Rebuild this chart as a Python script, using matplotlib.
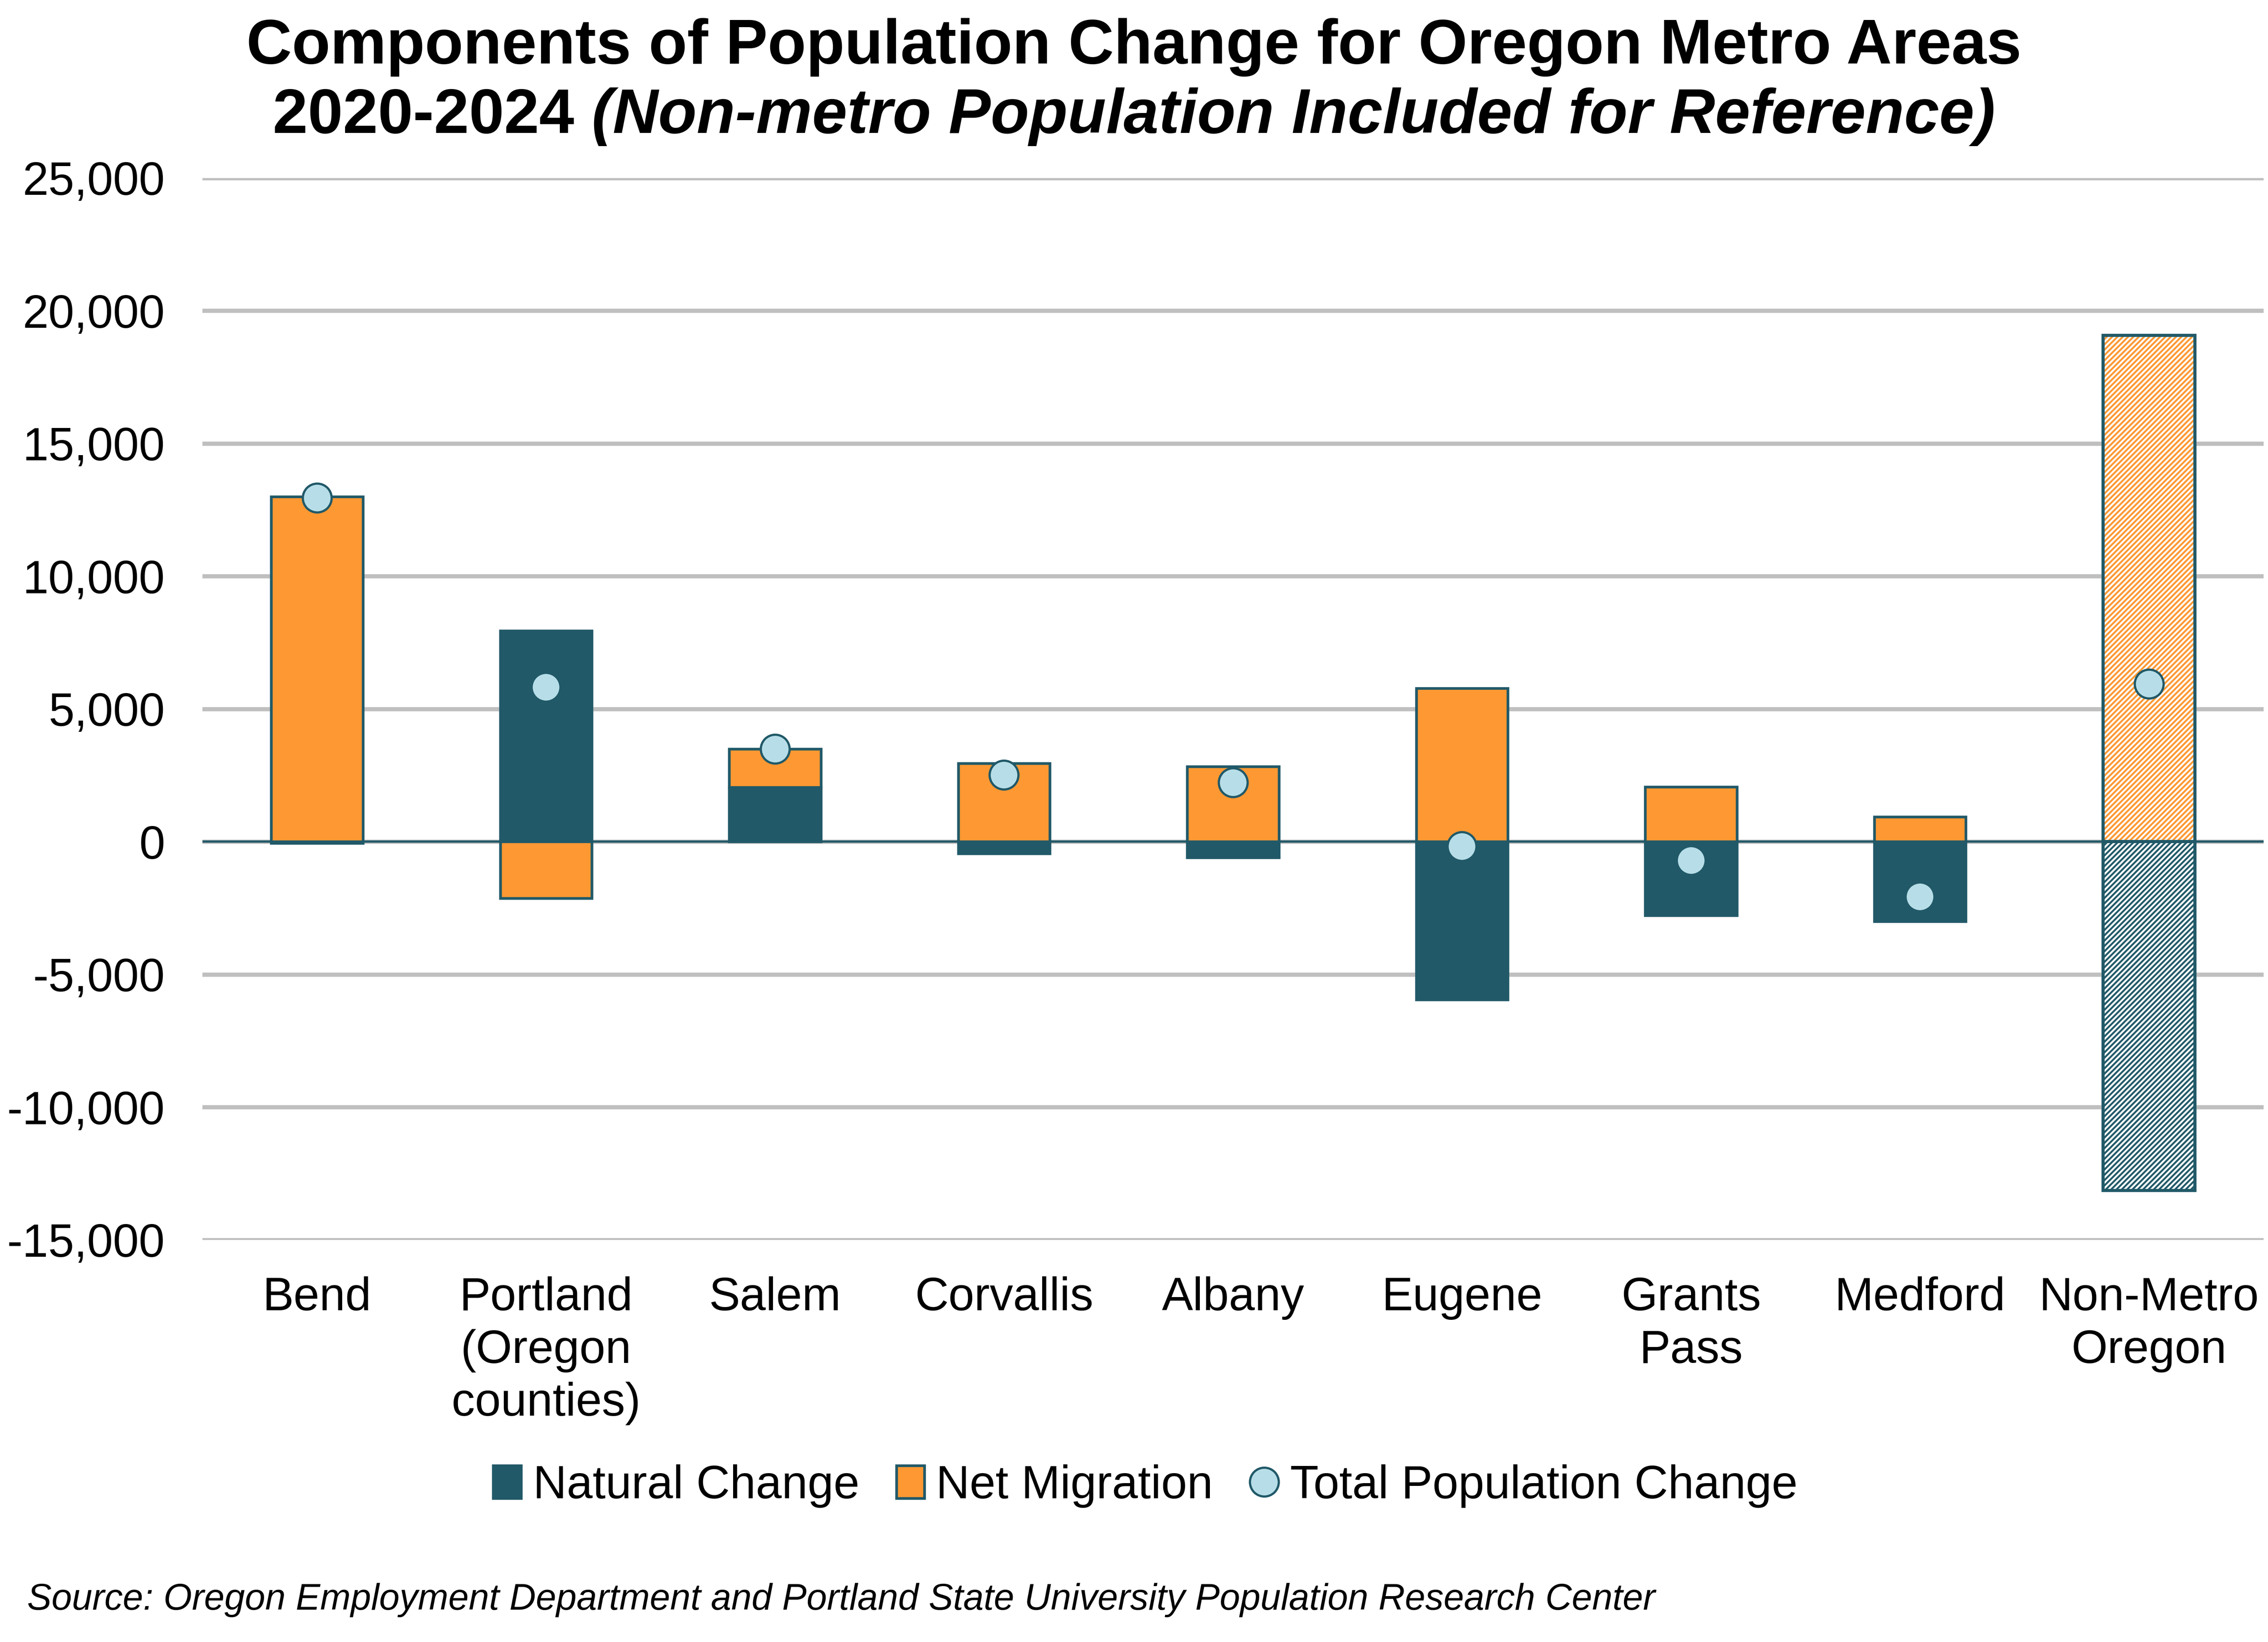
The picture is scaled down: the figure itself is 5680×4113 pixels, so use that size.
import matplotlib

matplotlib.use("Agg")
import matplotlib.pyplot as plt
import numpy as np
from matplotlib.lines import Line2D
from matplotlib.patches import Patch
from matplotlib.ticker import FuncFormatter, MultipleLocator

plt.rcParams["font.family"] = ["Liberation Sans", "DejaVu Sans"]
plt.rcParams["axes.unicode_minus"] = False
plt.rcParams["hatch.linewidth"] = 0.85

# values (persons, 2020-2024)
areas = ["Bend", "Portland\n(Oregon\ncounties)", "Salem", "Corvallis", "Albany",
         "Eugene", "Grants\nPass", "Medford", "Non-Metro\nOregon"]
natural_change = [-50, 7950, 2050, -440, -600, -5950, -2780, -3000, -13140]
net_migration = [13000, -2130, 1440, 2950, 2830, 5780, 2070, 930, 19080]
total_change = [12950, 5820, 3490, 2510, 2230, -170, -710, -2070, 5940]
reference_only = [False, False, False, False, False, False, False, False, True]

TEAL = "#215968"
ORANGE = "#FD9833"
DOT = "#B7DEE8"
GRID = "#BFBFBF"

x = np.arange(len(areas))
nat = np.array(natural_change)
mig = np.array(net_migration)
# Excel-style stacking: same-sign values stack, opposite signs start at zero
mig_bottom = np.where(np.sign(nat) == np.sign(mig), nat, 0)
ref = np.array(reference_only)
width = 0.4

fig = plt.figure(figsize=(14.2, 10.2825), dpi=400)
ax = fig.add_axes([0.0893, 0.2449, 0.9087, 0.6467])

ax.bar(x[~ref], nat[~ref], width, color=TEAL, edgecolor=TEAL, linewidth=1.2, zorder=2)
ax.bar(x[~ref], mig[~ref], width, bottom=mig_bottom[~ref], color=ORANGE,
       edgecolor=TEAL, linewidth=1.2, zorder=2)

# reference bars: hatched fill, teal outline
ax.bar(x[ref], nat[ref], width, color="white", edgecolor=TEAL, hatch="/" * 10,
       linewidth=0, zorder=2)
ax.bar(x[ref], mig[ref], width, bottom=mig_bottom[ref], color="white", edgecolor=ORANGE,
       hatch="/" * 10, linewidth=0, zorder=2)
ax.bar(x[ref], nat[ref], width, fill=False, edgecolor=TEAL, linewidth=1.4, zorder=2.1)
ax.bar(x[ref], mig[ref], width, bottom=mig_bottom[ref], fill=False, edgecolor=TEAL,
       linewidth=1.4, zorder=2.1)

ax.plot(x, total_change, "o", ms=13, mfc=DOT, mec=TEAL, mew=1.0, zorder=3)

ax.axhline(0, color=TEAL, linewidth=1.0, zorder=1.5)
ax.set_xlim(-0.5, len(areas) - 0.5)
ax.set_ylim(-15000, 25000)
ax.yaxis.set_major_locator(MultipleLocator(5000))
ax.yaxis.set_major_formatter(FuncFormatter(lambda v, _: f"{v:,.0f}"))
ax.grid(axis="y", color=GRID, linewidth=1.9)
ax.set_axisbelow(True)
for spine in ax.spines.values():
    spine.set_visible(False)
ax.set_xticks(x)
ax.set_xticklabels(areas, linespacing=1.27)
ax.tick_params(axis="both", length=0, labelsize=21)
ax.tick_params(axis="y", pad=17)
ax.tick_params(axis="x", pad=16.5)

# title: second line mixes bold and bold italic
fig.text(0.5, 0.9712, "Components of Population Change for Oregon Metro Areas",
         ha="center", va="center", fontsize=28.4, fontweight="bold")
renderer = fig.canvas.get_renderer()
t1 = fig.text(0, 0.9288, "2020-2024 ", va="center", fontsize=28.4, fontweight="bold")
t2 = fig.text(0, 0.9288, "(Non-metro Population Included for Reference)", va="center",
              fontsize=28.4, fontweight="bold", style="italic")
w1 = t1.get_window_extent(renderer).width / fig.bbox.width
w2 = t2.get_window_extent(renderer).width / fig.bbox.width
start = 0.5 - (w1 + w2) / 2
t1.set_x(start)
t2.set_x(start + w1)

handles = [
    Patch(facecolor=TEAL, edgecolor=TEAL, linewidth=1.2),
    Patch(facecolor=ORANGE, edgecolor=TEAL, linewidth=1.2),
    Line2D([], [], marker="o", ls="", ms=13, mfc=DOT, mec=TEAL, mew=1.0),
]
fig.legend(handles, ["Natural Change", "Net Migration", "Total Population Change"],
           loc="center", bbox_to_anchor=(0.505, 0.095), ncol=3, frameon=False,
           fontsize=21, handlelength=0.6, handleheight=0.7, handletextpad=0.25,
           columnspacing=0.8)

fig.text(0.012, 0.0256,
         "Source: Oregon Employment Department and Portland State University Population Research Center",
         ha="left", va="center", fontsize=16.5, style="italic")

fig.savefig("out.png", dpi=400)
